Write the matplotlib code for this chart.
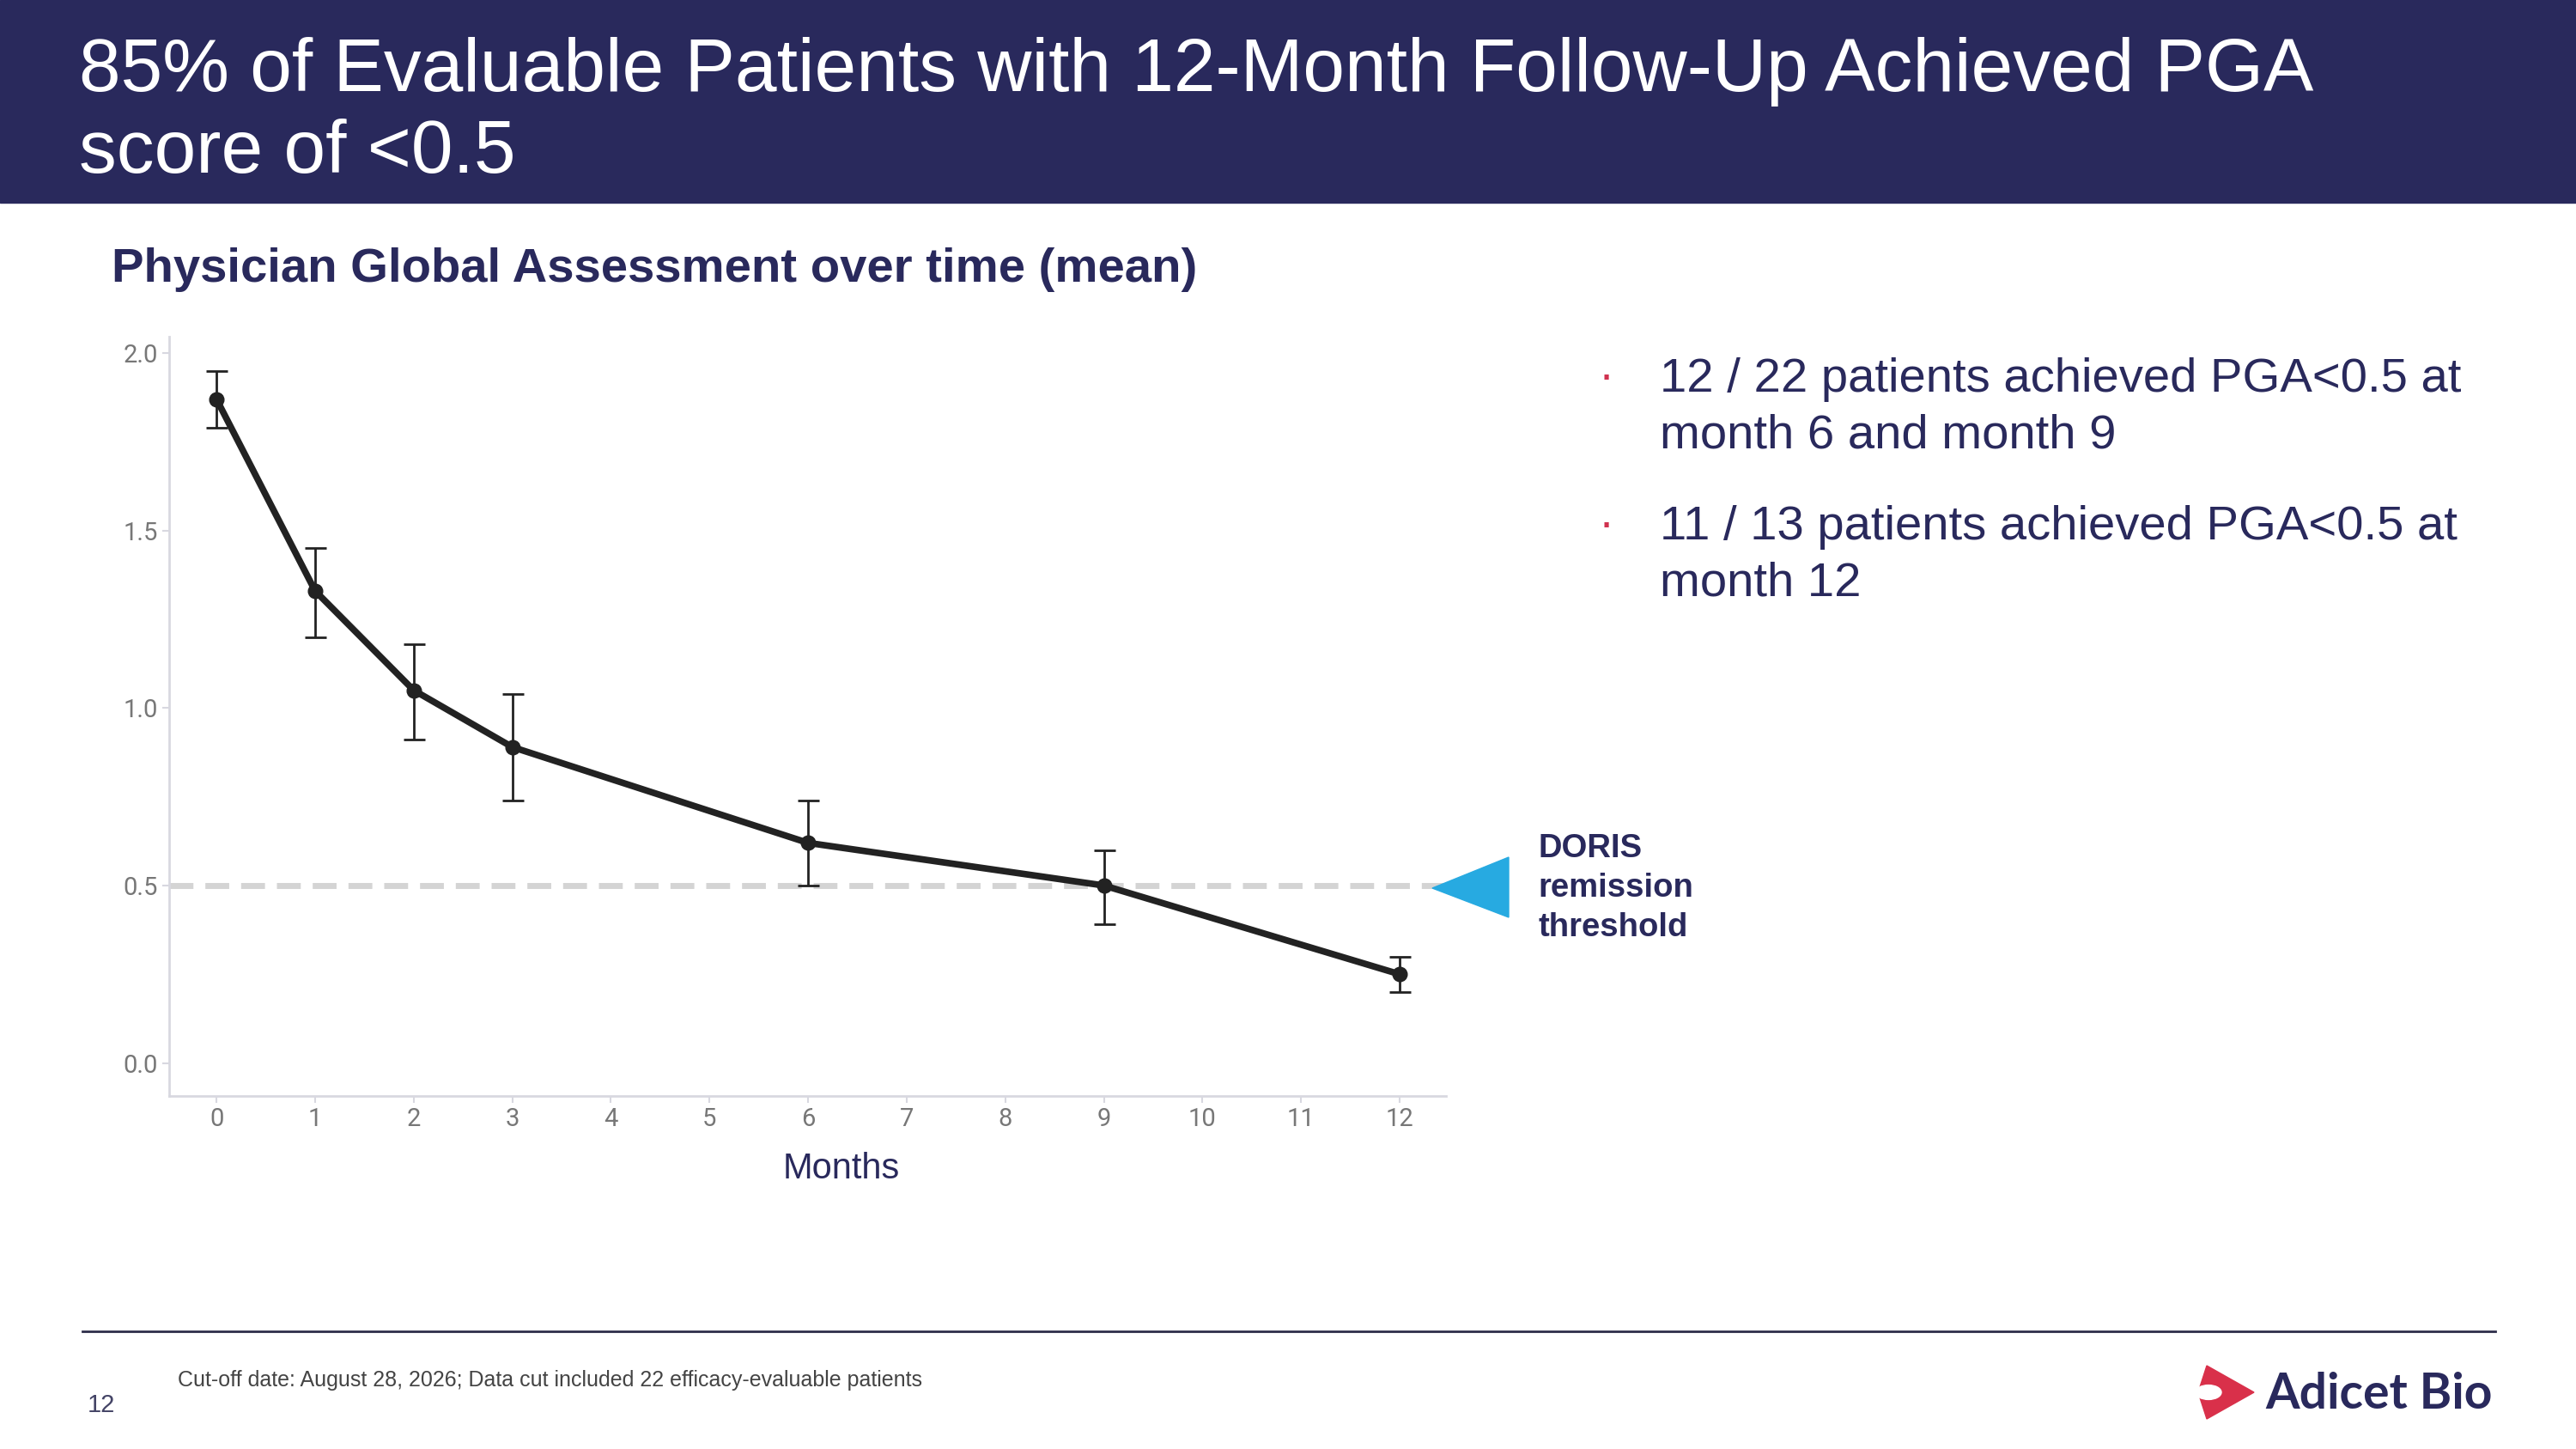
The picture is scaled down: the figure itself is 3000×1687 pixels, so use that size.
import matplotlib
matplotlib.use("Agg")
import matplotlib.pyplot as plt
from matplotlib.patches import Rectangle, Polygon, Circle

months = [0, 1, 2, 3, 6, 9, 12]
pga_mean = [1.87, 1.33, 1.05, 0.89, 0.62, 0.50, 0.25]
err_low = [1.79, 1.20, 0.91, 0.74, 0.50, 0.39, 0.20]
err_high = [1.95, 1.45, 1.18, 1.04, 0.74, 0.60, 0.30]
x_ticks = list(range(13))
y_ticks = [0.0, 0.5, 1.0, 1.5, 2.0]
threshold = 0.5

W, H = 3000, 1687
NAVY = "#29295c"
fig = plt.figure(figsize=(30, 16.87), dpi=100)
plt.rcParams['font.family'] = ['Liberation Sans', 'DejaVu Sans']
X = lambda p: p / W
Y = lambda p: 1 - p / H

# title bar
fig.patches.append(Rectangle((0, Y(236)), 1, 236 / H, transform=fig.transFigure, color=NAVY, zorder=0))
fig.text(X(92), Y(84), "85% of Evaluable Patients with 12-Month Follow-Up Achieved PGA",
         color="white", fontsize=63, va="center")
fig.text(X(92), Y(178), "score of <0.5", color="white", fontsize=63, va="center")
fig.text(X(130), Y(314), "Physician Global Assessment over time (mean)", color=NAVY,
         fontsize=40.5, fontweight="bold", va="center")

ax = fig.add_axes([X(197), Y(1276), (1684 - 197) / W, (1276 - 392) / H])
yerr = [[m - l for m, l in zip(pga_mean, err_low)], [h - m for m, h in zip(pga_mean, err_high)]]
ax.errorbar(months, pga_mean, yerr=yerr, color="#222222", lw=5.5, marker="o", ms=12,
            ecolor="#222222", elinewidth=2, capsize=9, capthick=2, zorder=3)
ax.axhline(threshold, color="#d4d4d4", lw=5, ls=(0, (4, 2)), zorder=2)
ax.set_xlim(-0.48, 12.47)
ax.set_ylim(-0.093, 2.046)
ax.set_xticks(x_ticks)
ax.set_yticks(y_ticks)
ax.set_yticklabels([f"{v:.1f}" for v in y_ticks])
for s in ["top", "right"]:
    ax.spines[s].set_visible(False)
for s in ["left", "bottom"]:
    ax.spines[s].set_color("#d8d8e0")
    ax.spines[s].set_linewidth(2)
ax.tick_params(colors="#d8d8e0", labelcolor="#777777", labelsize=21, length=6, width=1.5)
for t in ax.get_xticklabels() + ax.get_yticklabels():
    t.set_family("Roboto")
fig.text(X(980), Y(1361), "Months", fontsize=30, color=NAVY, ha="center", va="center")

# triangle marker
tri = Polygon([[X(1668), Y(1034)], [X(1757), Y(998)], [X(1757), Y(1068)]], closed=True,
              transform=fig.transFigure, color="#27aae1")
fig.patches.append(tri)
for i, t in enumerate(["DORIS", "remission", "threshold"]):
    fig.text(X(1791), Y(988 + i * 46), t, color=NAVY, fontsize=27.5, fontweight="bold", va="center")

# bullets
bullets = [("12 / 22 patients achieved PGA<0.5 at", "month 6 and month 9", 442),
           ("11 / 13 patients achieved PGA<0.5 at", "month 12", 614)]
for a, b, y in bullets:
    fig.text(X(1865), Y(y), "·", color="#d0314f", fontsize=26, va="center", fontweight="bold")
    fig.text(X(1933), Y(y), a, color=NAVY, fontsize=40.5, va="center")
    fig.text(X(1933), Y(y + 66), b, color=NAVY, fontsize=40.5, va="center")

# footer
fig.add_artist(plt.Line2D([X(96), X(2906)], [Y(1550), Y(1550)], transform=fig.transFigure,
                          color="#2e2e4a", lw=2))
fig.text(X(207), Y(1607), "Cut-off date: August 28, 2026; Data cut included 22 efficacy-evaluable patients",
         color="#444444", fontsize=18, va="center")
fig.text(X(102), Y(1636), "12", color="#444466", fontsize=21, va="center")

# logo
logo = Polygon([[X(2570), Y(1590)], [X(2625), Y(1621)], [X(2570), Y(1652)], [X(2560), Y(1621)]],
               closed=True, transform=fig.transFigure, color="#d9304a")
fig.patches.append(logo)
fig.patches.append(Circle((X(2572), Y(1621)), 15 / W, transform=fig.transFigure, color="white"))
fig.text(X(2638), Y(1623), "Adicet Bio", color=NAVY, fontsize=41, fontweight="bold",
         va="center", family="Lato")

fig.savefig("out.png", dpi=100)
